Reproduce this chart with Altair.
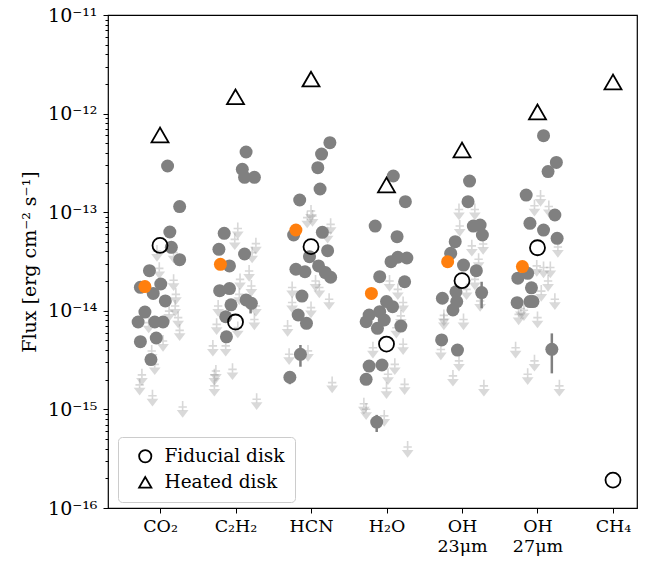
import altair as alt
import pandas as pd

FONT = "DejaVu Serif"

categories = ["CO₂", "C₂H₂", "HCN", "H₂O", "OH|23μm", "OH|27μm", "CH₄"]

# detections: (offset from category centre, flux)
det_co2 = [(0.10, 2.94e-13), (0.26, 1.14e-13), (0.13, 6.3e-14), (0.15, 4.4e-14), (0.26, 3.3e-14),
           (-0.14, 2.55e-14), (0.01, 1.87e-14), (-0.26, 1.73e-14), (-0.09, 1.5e-14), (0.07, 1.26e-14),
           (-0.20, 9.7e-15), (-0.29, 7.7e-15), (-0.07, 7.7e-15), (0.04, 7.7e-15), (-0.26, 4.86e-15),
           (-0.05, 5.3e-15), (-0.12, 3.2e-15)]
det_c2h2 = [(0.14, 4.08e-13), (0.09, 2.72e-13), (0.12, 2.26e-13), (0.25, 2.26e-13), (-0.15, 6.1e-14),
            (-0.22, 4.2e-14), (0.12, 3.77e-14), (-0.08, 2.85e-14), (-0.21, 1.6e-14), (-0.08, 1.68e-14),
            (-0.06, 1.15e-14), (0.14, 1.29e-14), (0.21, 1.19e-14), (-0.13, 8.7e-15), (-0.12, 5.45e-15)]
det_hcn = [(0.25, 5.07e-13), (0.14, 3.89e-13), (0.09, 2.83e-13), (0.12, 1.72e-13), (-0.15, 1.33e-13),
           (-0.23, 5.87e-14), (0.15, 6.25e-14), (0.22, 4.07e-14), (-0.20, 2.64e-14), (-0.08, 2.49e-14),
           (-0.02, 3.54e-14), (0.10, 2.85e-14), (0.19, 2.44e-14), (0.26, 2.19e-14), (-0.12, 1.41e-14),
           (-0.17, 9.06e-15), (-0.06, 7.46e-15), (-0.14, 3.62e-15), (-0.28, 2.12e-15)]
det_h2o = [(0.09, 2.33e-13), (0.25, 1.28e-13), (-0.15, 7.24e-14), (0.14, 5.65e-14), (0.06, 3.15e-14),
           (0.15, 3.49e-14), (0.27, 3.43e-14), (-0.09, 2.22e-14), (0.24, 1.97e-14), (0.0, 1.24e-14),
           (0.08, 1.1e-14), (-0.23, 9.06e-15), (-0.09, 9.8e-15), (-0.27, 7.74e-15), (-0.12, 6.64e-15),
           (0.19, 7.0e-15), (-0.03, 8.07e-15), (-0.23, 2.75e-15), (-0.06, 2.82e-15), (-0.27, 2.02e-15),
           (-0.13, 7.44e-16)]
det_oh23 = [(0.10, 2.07e-13), (0.08, 1.28e-13), (0.15, 7.24e-14), (0.24, 7.4e-14), (0.27, 5.87e-14),
            (-0.09, 5.02e-14), (-0.15, 3.83e-14), (0.02, 2.91e-14), (0.19, 2.55e-14), (-0.26, 1.34e-14),
            (-0.08, 1.56e-14), (-0.07, 1.24e-14), (-0.12, 1.02e-14), (0.26, 1.53e-14), (-0.27, 5.06e-15),
            (-0.06, 4.0e-15)]
det_oh27 = [(0.08, 5.97e-13), (0.25, 3.2e-13), (0.14, 2.58e-13), (-0.15, 1.49e-13), (0.23, 9.37e-14),
            (-0.10, 7.71e-14), (0.08, 6.59e-14), (0.26, 5.43e-14), (-0.26, 2.14e-14), (-0.13, 2.4e-14),
            (-0.08, 1.71e-14), (-0.27, 1.21e-14), (-0.06, 1.24e-14), (-0.10, 1.24e-14), (0.19, 4.07e-15)]
det_ch4 = []

# upper limits: (offset from category centre, flux)
ul_co2 = [(-0.04, 3.83e-14), (0.18, 3.68e-14), (-0.01, 2.55e-14), (0.18, 1.93e-14), (0.21, 1.39e-14),
          (0.20, 1.06e-14), (0.12, 9.4e-15), (0.24, 8.07e-15), (-0.15, 7.18e-15), (0.26, 6.0e-15),
          (0.04, 4.68e-15), (-0.11, 3.7e-15), (-0.07, 2.71e-15), (-0.24, 2.12e-15), (-0.27, 1.68e-15),
          (-0.10, 1.3e-15), (0.30, 1.0e-15)]
ul_c2h2 = [(0.03, 6.48e-14), (-0.01, 5.02e-14), (0.27, 4.54e-14), (0.22, 3.68e-14), (0.18, 2.40e-14),
           (0.06, 1.97e-14), (0.21, 1.69e-14), (0.05, 1.39e-14), (-0.23, 1.06e-14), (0.27, 1.06e-14),
           (0.25, 7.74e-15), (-0.25, 6.9e-15), (0.03, 6.39e-15), (-0.30, 4.17e-15), (-0.13, 4.17e-15),
           (-0.04, 2.41e-15), (-0.26, 2.32e-15), (-0.28, 2.12e-15), (-0.28, 1.64e-15), (0.28, 1.2e-15)]
ul_hcn = [(0.0, 9.75e-14), (-0.05, 8.34e-14), (0.02, 8.67e-14), (0.26, 7.13e-14), (0.22, 5.87e-14),
          (0.06, 1.9e-14), (-0.25, 1.63e-14), (0.11, 1.63e-14), (0.24, 1.24e-14), (-0.25, 1.15e-14),
          (0.0, 1.02e-14), (-0.31, 6.64e-15), (-0.29, 3.43e-15), (-0.04, 3.71e-15), (0.28, 1.77e-15)]
ul_h2o = [(0.04, 1.9e-14), (0.15, 1.56e-14), (0.22, 1.15e-14), (0.19, 8.4e-15), (0.13, 6.38e-15),
          (0.22, 4.33e-15), (-0.18, 4.0e-15), (0.11, 2.71e-15), (0.02, 2.15e-15), (0.0, 1.55e-15),
          (0.24, 1.7e-15), (-0.30, 1.08e-15), (-0.27, 9.5e-16), (-0.03, 8.13e-16), (0.28, 3.94e-16)]
ul_oh23 = [(-0.04, 1.01e-13), (0.17, 1.01e-13), (-0.03, 6.87e-14), (0.13, 4.31e-14), (0.28, 4.5e-14),
           (0.22, 3.15e-14), (0.17, 1.97e-14), (0.06, 1.56e-14), (0.24, 1.19e-14), (-0.24, 7.74e-15),
           (0.02, 7.74e-15), (-0.24, 8.5e-15), (-0.28, 3.84e-15), (-0.04, 2.94e-15), (-0.12, 2.07e-15),
           (0.29, 1.64e-15)]
ul_oh27 = [(0.04, 1.38e-13), (-0.04, 1.1e-13), (0.15, 1.08e-13), (0.27, 4.2e-14), (-0.01, 2.7e-14),
           (0.08, 2.6e-14), (0.17, 2.6e-14), (0.14, 1.9e-14), (0.05, 1.5e-14), (0.23, 1.24e-14),
           (-0.25, 8.7e-15), (0.0, 8.07e-15), (-0.29, 4.0e-15), (-0.04, 2.94e-15), (-0.13, 2.15e-15),
           (0.29, 1.64e-15), (-0.22, 1.0e-14), (-0.18, 9.6e-15)]
ul_ch4 = []

# error bars on detections: (category index, offset, low, high)
err_bars = [(1, 0.20, 9.4e-15, 1.19e-14), (2, -0.14, 2.71e-15, 4.5e-15), (2, -0.28, 1.8e-15, 2.12e-15),
            (3, -0.13, 5.9e-16, 8.8e-16), (4, 0.26, 1.06e-14, 1.97e-14), (5, 0.19, 2.32e-15, 5.9e-15)]

# highlighted source (orange)
orange_offset = [-0.20, -0.20, -0.20, -0.20, -0.19, -0.20]
orange_flux = [1.76e-14, 2.96e-14, 6.6e-14, 1.5e-14, 3.15e-14, 2.81e-14]

# models
fiducial_flux = [4.6e-14, 7.7e-15, 4.47e-14, 4.6e-15, 2.02e-14, 4.36e-14, 1.92e-16]
heated_flux = [6.07e-13, 1.48e-12, 2.24e-12, 1.89e-13, 4.28e-13, 1.04e-12, 2.09e-12]

dets = [det_co2, det_c2h2, det_hcn, det_h2o, det_oh23, det_oh27, det_ch4]
uls = [ul_co2, ul_c2h2, ul_hcn, ul_h2o, ul_oh23, ul_oh27, ul_ch4]

det_df = pd.DataFrame([{"x": i + dx, "flux": f} for i, lst in enumerate(dets) for dx, f in lst])
ul_df = pd.DataFrame([{"x": i + dx, "flux": f} for i, lst in enumerate(uls) for dx, f in lst])
err_df = pd.DataFrame([{"x": i + dx, "lo": lo, "hi": hi} for i, dx, lo, hi in err_bars])
orange_df = pd.DataFrame({"x": [i + d for i, d in enumerate(orange_offset)], "flux": orange_flux})
fid_df = pd.DataFrame({"x": list(range(7)), "flux": fiducial_flux, "model": "Fiducial disk"})
heat_df = pd.DataFrame({"x": list(range(7)), "flux": heated_flux, "model": "Heated disk"})

# axes
xscale = alt.Scale(domain=[-0.689, 6.318], nice=False, zero=False)
yscale = alt.Scale(type="log", domain=[1e-16, 1e-11], nice=False)

lab_arr = "[" + ",".join("'" + c + "'" for c in categories) + "]"
xaxis = alt.Axis(values=list(range(7)), labelExpr="split(" + lab_arr + "[round(datum.value)], '|')",
                 tickSize=5, labelPadding=4, grid=False, domain=False, labelFont=FONT,
                 labelFontSize=17.5, labelColor="black", tickColor="black", labelLineHeight=20,
                 labelBaseline="top", title=None)
X = alt.X("x:Q", scale=xscale, axis=xaxis)

sup = str.maketrans("-0123456789", "⁻⁰¹²³⁴⁵⁶⁷⁸⁹")
expr = "''"
for e in range(-16, -10):
    expr = f"round(log(datum.value)/LN10)=={e} ? '10{str(e).translate(sup)}' : ({expr})"
major_axis = alt.Axis(values=[10.0 ** e for e in range(-16, -10)], labelExpr=expr, tickSize=5,
                      labelPadding=6, grid=False, domain=False, labelFont=FONT, labelFontSize=19,
                      labelColor="black", tickColor="black", title="Flux [erg cm⁻² s⁻¹]",
                      titleFont=FONT, titleFontSize=19, titleFontWeight="normal", titleColor="black",
                      titlePadding=8, orient="left")
minor_vals = [k * 10.0 ** e for e in range(-16, -11) for k in range(2, 10)]
minor_axis = alt.Axis(values=minor_vals, labels=False, tickSize=3, grid=False, domain=False,
                      tickColor="black", title=None, orient="left")

TRI = "M-0.7,0.08L0.7,0.08L0,1Z"
CROSS = "M0,-1L0,0.1M-0.5,-0.28L0.5,-0.28"

ul_fill = alt.Chart(ul_df).mark_point(shape=TRI, filled=True, color="grey", opacity=0.3,
                                      size=280, strokeWidth=0).encode(
    x=X, y=alt.Y("flux:Q", scale=yscale, axis=minor_axis))
ul_line = alt.Chart(ul_df).mark_point(shape=CROSS, filled=False, color="grey", opacity=0.3,
                                      size=280, strokeWidth=1.6).encode(
    x=X, y=alt.Y("flux:Q", scale=yscale, axis=None))
errs = alt.Chart(err_df).mark_rule(color="grey", strokeWidth=2.5).encode(
    x=X, y=alt.Y("lo:Q", scale=yscale, axis=None), y2="hi:Q")
det = alt.Chart(det_df).mark_circle(color="grey", size=169, opacity=1).encode(
    x=X, y=alt.Y("flux:Q", scale=yscale, axis=major_axis))
orange = alt.Chart(orange_df).mark_circle(color="#ff7f0e", size=169, opacity=1).encode(
    x=X, y=alt.Y("flux:Q", scale=yscale, axis=None))

shape_scale = alt.Scale(domain=["Fiducial disk", "Heated disk"], range=["circle", "triangle-up"])
leg = alt.Legend(title=None, orient="none", legendX=10, legendY=422, padding=10,
                 strokeColor="#cccccc", fillColor="white", cornerRadius=4, labelFont=FONT,
                 labelFontSize=18.5, labelColor="black", symbolStrokeColor="black",
                 symbolStrokeWidth=1.8, symbolSize=150, rowPadding=7, labelOffset=10,
                 symbolOffset=8)
fid = alt.Chart(fid_df).mark_point(filled=False, color="black", strokeWidth=1.8, size=225,
                                   opacity=1).encode(
    x=X, y=alt.Y("flux:Q", scale=yscale, axis=None),
    shape=alt.Shape("model:N", scale=shape_scale, legend=leg))
heat = alt.Chart(heat_df).mark_point(filled=False, color="black", strokeWidth=1.8, size=289,
                                     opacity=1).encode(
    x=X, y=alt.Y("flux:Q", scale=yscale, axis=None),
    shape=alt.Shape("model:N", scale=shape_scale, legend=leg))

chart = alt.layer(ul_fill, ul_line, errs, det, orange, fid, heat).resolve_axis(
    y="independent").properties(
    width=529, height=493,
    padding={"left": 108, "top": 15, "right": 20, "bottom": 55},
    autosize=alt.AutoSizeParams(type="none"),
    background="white",
).configure_view(stroke="black", strokeWidth=1.2)

chart.save("out.html", embed_options={"renderer": "svg", "actions": False})
